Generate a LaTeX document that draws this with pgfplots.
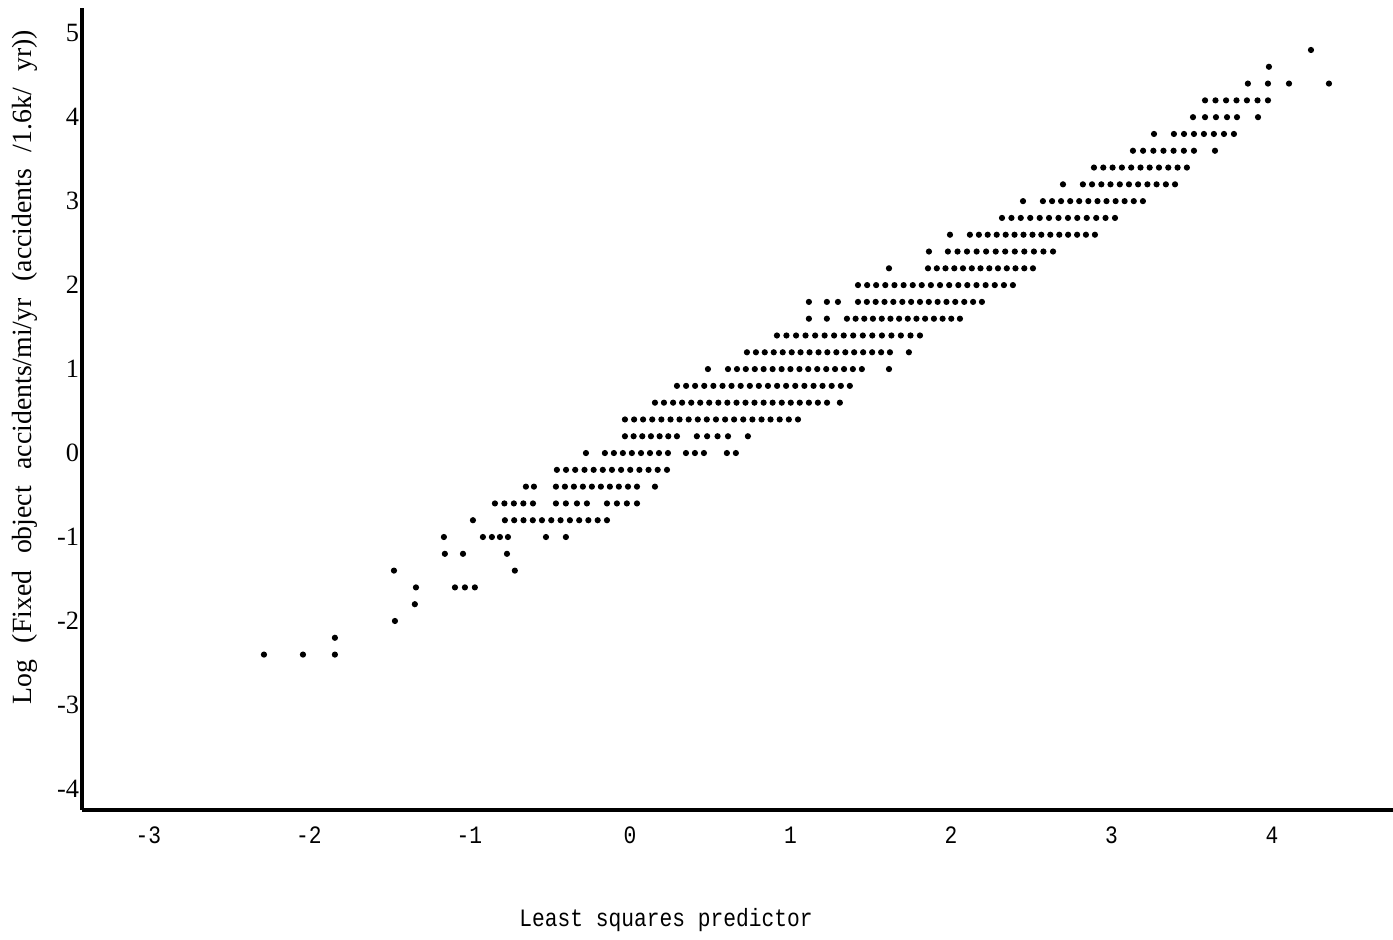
\documentclass[border=0pt]{standalone}
\usepackage{pgfplots}
\pgfplotsset{compat=1.18}
\usepackage{fontspec}
\setmainfont{Liberation Serif}
\newfontfamily\monofont[FakeStretch=0.85]{Liberation Mono}
\begin{document}
\begin{tikzpicture}
\begin{axis}[
  scale only axis,
  width=472pt, height=288.7pt,
  xmin=-3.414, xmax=4.754,
  ymin=-4.25, ymax=5.30,
  axis lines=left,
  axis line style={-, line width=1.5pt, black},
  xtick={-3,-2,-1,0,1,2,3,4},
  xticklabels={-3,-2,-1,0,1,2,3,4},
  ytick={-4,-3,-2,-1,0,1,2,3,4,5},
  yticklabels={-4,-3,-2,-1,0,1,2,3,4,5},
  major tick length=0pt,
  xticklabel style={font=\monofont\fontsize{9}{10}\selectfont, inner sep=0pt, anchor=north, yshift=-5.8pt},
  yticklabel style={font=\fontsize{9.5}{11}\selectfont, inner sep=0pt, anchor=east, xshift=-0.8pt},
  xlabel={Least squares predictor},
  xlabel style={font=\monofont\fontsize{9}{10}\selectfont, at={(rel axis cs:0.4455,-0.137)}, anchor=center},
  ylabel={\spaceskip=6pt Log (Fixed object accidents/mi/yr (accidents /1.6k/ yr))},
  ylabel style={font=\fontsize{10}{12}\selectfont, at={(rel axis cs:-0.0435,0.552)}, anchor=center},
  clip=false,
]
\addplot[only marks, mark=*, mark size=0.9pt, black] coordinates {
(-2.280,-2.4) (-2.037,-2.4) (-1.838,-2.4)
(-1.838,-2.2)
(-1.464,-2.0)
(-1.340,-1.8)
(-1.333,-1.6) (-1.090,-1.6) (-1.028,-1.6) (-0.966,-1.6)
(-1.470,-1.4) (-0.717,-1.4)
(-1.153,-1.2) (-1.040,-1.2) (-0.766,-1.2)
(-1.159,-1.0) (-0.916,-1.0) (-0.860,-1.0) (-0.810,-1.0) (-0.760,-1.0) (-0.523,-1.0) (-0.399,-1.0)
(-0.978,-0.8) (-0.779,-0.8) (-0.721,-0.8) (-0.663,-0.8) (-0.605,-0.8) (-0.548,-0.8) (-0.490,-0.8) (-0.432,-0.8) (-0.374,-0.8) (-0.316,-0.8) (-0.259,-0.8) (-0.201,-0.8) (-0.143,-0.8)
(-0.841,-0.6) (-0.782,-0.6) (-0.723,-0.6) (-0.664,-0.6) (-0.604,-0.6) (-0.461,-0.6) (-0.399,-0.6) (-0.330,-0.6) (-0.268,-0.6) (-0.143,-0.6) (-0.081,-0.6) (-0.019,-0.6) (0.044,-0.6)
(-0.648,-0.4) (-0.598,-0.4) (-0.461,-0.4) (-0.405,-0.4) (-0.349,-0.4) (-0.293,-0.4) (-0.237,-0.4) (-0.181,-0.4) (-0.125,-0.4) (-0.069,-0.4) (-0.012,-0.4) (0.044,-0.4) (0.156,-0.4)
(-0.455,-0.2) (-0.398,-0.2) (-0.341,-0.2) (-0.283,-0.2) (-0.226,-0.2) (-0.169,-0.2) (-0.112,-0.2) (-0.055,-0.2) (0.002,-0.2) (0.059,-0.2) (0.116,-0.2) (0.173,-0.2) (0.231,-0.2)
(-0.274,0) (-0.156,0) (-0.100,0) (-0.044,0) (0.012,0) (0.069,0) (0.125,0) (0.181,0) (0.237,0) (0.349,0) (0.405,0) (0.461,0) (0.604,0) (0.660,0)
(-0.031,0.2) (0.023,0.2) (0.077,0.2) (0.131,0.2) (0.185,0.2) (0.239,0.2) (0.293,0.2) (0.417,0.2) (0.481,0.2) (0.546,0.2) (0.611,0.2) (0.735,0.2)
(-0.031,0.4) (0.026,0.4) (0.082,0.4) (0.139,0.4) (0.196,0.4) (0.253,0.4) (0.309,0.4) (0.366,0.4) (0.423,0.4) (0.479,0.4) (0.536,0.4) (0.593,0.4) (0.649,0.4) (0.706,0.4) (0.763,0.4) (0.820,0.4) (0.876,0.4) (0.933,0.4) (0.990,0.4) (1.047,0.4)
(0.156,0.6) (0.212,0.6) (0.269,0.6) (0.325,0.6) (0.382,0.6) (0.438,0.6) (0.494,0.6) (0.551,0.6) (0.607,0.6) (0.664,0.6) (0.720,0.6) (0.776,0.6) (0.833,0.6) (0.889,0.6) (0.946,0.6) (1.002,0.6) (1.058,0.6) (1.115,0.6) (1.171,0.6) (1.228,0.6) (1.308,0.6)
(0.293,0.8) (0.350,0.8) (0.406,0.8) (0.463,0.8) (0.520,0.8) (0.577,0.8) (0.633,0.8) (0.690,0.8) (0.747,0.8) (0.803,0.8) (0.860,0.8) (0.917,0.8) (0.973,0.8) (1.030,0.8) (1.087,0.8) (1.144,0.8) (1.200,0.8) (1.257,0.8) (1.314,0.8) (1.370,0.8)
(0.486,1.0) (0.611,1.0) (0.667,1.0) (0.722,1.0) (0.778,1.0) (0.833,1.0) (0.889,1.0) (0.945,1.0) (1.000,1.0) (1.056,1.0) (1.111,1.0) (1.167,1.0) (1.223,1.0) (1.278,1.0) (1.334,1.0) (1.389,1.0) (1.445,1.0) (1.614,1.0)
(0.729,1.2) (0.785,1.2) (0.840,1.2) (0.896,1.2) (0.952,1.2) (1.008,1.2) (1.063,1.2) (1.119,1.2) (1.175,1.2) (1.230,1.2) (1.286,1.2) (1.342,1.2) (1.397,1.2) (1.453,1.2) (1.509,1.2) (1.565,1.2) (1.620,1.2) (1.738,1.2)
(0.916,1.4) (0.975,1.4) (1.035,1.4) (1.094,1.4) (1.154,1.4) (1.213,1.4) (1.272,1.4) (1.332,1.4) (1.391,1.4) (1.451,1.4) (1.510,1.4) (1.570,1.4) (1.629,1.4) (1.688,1.4) (1.748,1.4) (1.807,1.4)
(1.115,1.6) (1.227,1.6) (1.352,1.6) (1.406,1.6) (1.460,1.6) (1.514,1.6) (1.569,1.6) (1.623,1.6) (1.677,1.6) (1.731,1.6) (1.785,1.6) (1.839,1.6) (1.894,1.6) (1.948,1.6) (2.002,1.6) (2.056,1.6)
(1.115,1.8) (1.227,1.8) (1.296,1.8) (1.421,1.8) (1.476,1.8) (1.531,1.8) (1.586,1.8) (1.641,1.8) (1.697,1.8) (1.752,1.8) (1.807,1.8) (1.862,1.8) (1.917,1.8) (1.972,1.8) (2.027,1.8) (2.083,1.8) (2.138,1.8) (2.193,1.8)
(1.421,2.0) (1.478,2.0) (1.534,2.0) (1.591,2.0) (1.648,2.0) (1.705,2.0) (1.762,2.0) (1.818,2.0) (1.875,2.0) (1.932,2.0) (1.989,2.0) (2.046,2.0) (2.102,2.0) (2.159,2.0) (2.216,2.0) (2.273,2.0) (2.330,2.0) (2.386,2.0)
(1.614,2.2) (1.857,2.2) (1.912,2.2) (1.966,2.2) (2.021,2.2) (2.075,2.2) (2.130,2.2) (2.184,2.2) (2.239,2.2) (2.293,2.2) (2.348,2.2) (2.402,2.2) (2.457,2.2) (2.511,2.2)
(1.863,2.4) (1.981,2.4) (2.041,2.4) (2.100,2.4) (2.160,2.4) (2.219,2.4) (2.279,2.4) (2.338,2.4) (2.398,2.4) (2.457,2.4) (2.517,2.4) (2.576,2.4) (2.636,2.4)
(1.994,2.6) (2.118,2.6) (2.174,2.6) (2.229,2.6) (2.285,2.6) (2.341,2.6) (2.396,2.6) (2.452,2.6) (2.508,2.6) (2.563,2.6) (2.619,2.6) (2.675,2.6) (2.730,2.6) (2.786,2.6) (2.841,2.6) (2.897,2.6)
(2.318,2.8) (2.377,2.8) (2.435,2.8) (2.494,2.8) (2.553,2.8) (2.611,2.8) (2.670,2.8) (2.729,2.8) (2.787,2.8) (2.846,2.8) (2.905,2.8) (2.963,2.8) (3.022,2.8)
(2.449,3.0) (2.573,3.0) (2.630,3.0) (2.686,3.0) (2.743,3.0) (2.799,3.0) (2.856,3.0) (2.913,3.0) (2.969,3.0) (3.026,3.0) (3.082,3.0) (3.139,3.0) (3.196,3.0)
(2.698,3.2) (2.822,3.2) (2.879,3.2) (2.937,3.2) (2.994,3.2) (3.052,3.2) (3.109,3.2) (3.166,3.2) (3.224,3.2) (3.281,3.2) (3.339,3.2) (3.396,3.2)
(2.891,3.4) (2.949,3.4) (3.007,3.4) (3.065,3.4) (3.123,3.4) (3.181,3.4) (3.238,3.4) (3.296,3.4) (3.354,3.4) (3.412,3.4) (3.470,3.4)
(3.134,3.6) (3.197,3.6) (3.261,3.6) (3.324,3.6) (3.387,3.6) (3.451,3.6) (3.514,3.6) (3.645,3.6)
(3.265,3.8) (3.389,3.8) (3.452,3.8) (3.514,3.8) (3.576,3.8) (3.638,3.8) (3.701,3.8) (3.763,3.8)
(3.508,4.0) (3.583,4.0) (3.651,4.0) (3.720,4.0) (3.782,4.0) (3.913,4.0)
(3.583,4.2) (3.648,4.2) (3.714,4.2) (3.779,4.2) (3.844,4.2) (3.910,4.2) (3.975,4.2)
(3.850,4.4) (3.975,4.4) (4.106,4.4) (4.355,4.4)
(3.981,4.6)
(4.243,4.8)
};
\coordinate (bbbl) at (rel axis cs:-0.0625,-0.1621);
\coordinate (bbtr) at (rel axis cs:1,1.01);
\end{axis}
\pgfresetboundingbox
\path[use as bounding box] (bbbl) rectangle (bbtr);
\end{tikzpicture}
\end{document}
